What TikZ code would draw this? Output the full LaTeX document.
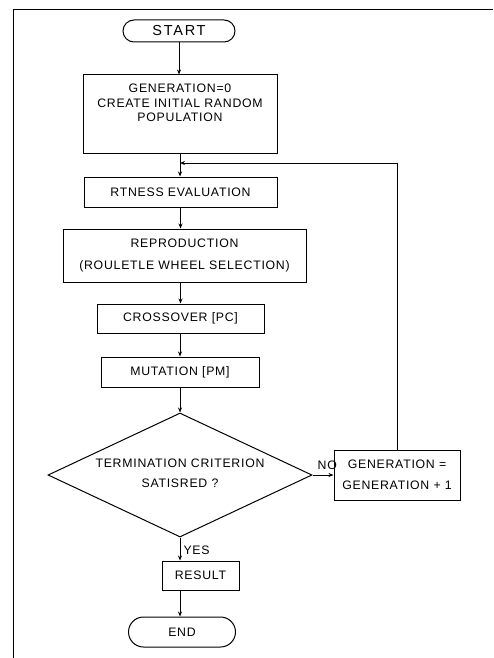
\documentclass[tikz,border=0pt]{standalone}
\usepackage{fontspec}
\setmainfont{Liberation Sans}[LetterSpace=6]
\usetikzlibrary{shapes.misc,shapes.geometric,arrows.meta}
\begin{document}
\begin{tikzpicture}[x=1pt,y=-1pt,
  every node/.style={font=\fontsize{12.3}{14.5}\selectfont, align=center, inner sep=0pt},
  wide/.style={font=\fontsize{12.3}{21.5}\selectfont},
  boxnode/.style={draw, line width=1pt},
  termnode/.style={draw, line width=1pt, rounded rectangle},
  flow/.style={line width=1pt, -{Stealth[length=5pt,width=4pt]}},
  plainline/.style={line width=1pt}]
\useasboundingbox (0,0) rectangle (493,658);
% outer frame, open at right and bottom
\draw[line width=1pt] (13,700) -- (13,10) -- (493,10);

% main chain
\node[termnode, minimum width=112pt, minimum height=22pt,
      font=\fontsize{14.5}{16}\selectfont\addfontfeature{LetterSpace=12}] (start) at (179,31) {START};
\node[boxnode, minimum width=194pt, minimum height=78pt] (init) at (180,114) {};
\node (inittext) at (180,103) {GENERATION=0\\CREATE INITIAL RANDOM\\POPULATION};
\node[boxnode, minimum width=193pt, minimum height=30pt] (fit) at (180.5,192) {RTNESS EVALUATION};
\node[boxnode, wide, minimum width=243pt, minimum height=53pt] (repro) at (184.5,255.5)
  {REPRODUCTION\\(ROULETLE WHEEL SELECTION)};
\node[boxnode, minimum width=167pt, minimum height=29pt] (cross) at (180.5,318.5) {CROSSOVER [PC]};
\node[boxnode, minimum width=158pt, minimum height=30pt] (mut) at (180,372) {MUTATION [PM]};
\node[draw, line width=1pt, diamond, minimum width=264pt, minimum height=124pt] (crit) at (180,475) {};
\node[font=\fontsize{12.3}{20}\selectfont] (crittext) at (180,473) {TERMINATION CRITERION\\SATISRED ?};
\node[boxnode, wide, minimum width=126pt, minimum height=50pt] (gen) at (397,475)
  {GENERATION =\\GENERATION + 1};
\node[boxnode, minimum width=77pt, minimum height=29pt] (res) at (200.5,575.5) {RESULT};
\node[termnode, minimum width=107pt, minimum height=30pt] (end) at (182,632) {END};

\coordinate (join) at (180,163);

% connectors
\draw[flow] (start.south) -- (start.south |- init.north);
\draw[flow] (init.south) -- (init.south |- fit.north);
\draw[flow] (fit.south -| cross.north) -- (cross.north |- repro.north);
\draw[flow] (repro.south -| cross.north) -- (cross.north);
\draw[flow] (cross.south -| mut.north) -- (mut.north);
\draw[flow] (mut.south) -- (crit.north);
\draw[flow] (crit.east) -- (gen.west);
\node[anchor=south west] (nolabel) at ([xshift=5pt,yshift=5pt]crit.east) {NO};
\draw[plainline] (gen.north) -- (gen.north |- join);
\draw[flow] (gen.north |- join) -- (join);
\draw[flow] (crit.south) -- node[right=3pt, yshift=-1pt] {YES} (crit.south |- res.north);
\draw[flow] (crit.south |- res.south) -- (crit.south |- end.north);
\end{tikzpicture}
\end{document}
